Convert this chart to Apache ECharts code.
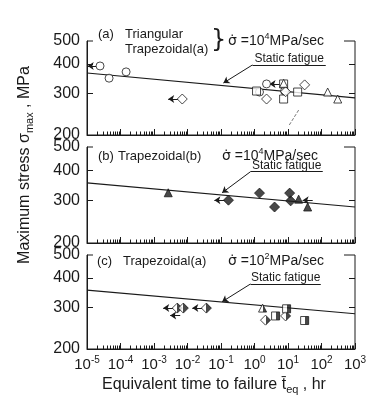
<!DOCTYPE HTML>
<html lang="en">

<head>
	<meta charset="utf-8">
	<title>Maximum stress vs equivalent time to failure</title>
	<style>
		html,
		body {
			margin: 0;
			padding: 0;
			background: #fff;
		}

		#chart {
			width: 371px;
			height: 411px;
		}
	</style>
</head>

<body>
	<div id="chart"></div>

	<script src="https://cdn.jsdelivr.net/npm/echarts@6.0.0/dist/echarts.min.js"></script>
	<script>
		// axis ticks
		var decadeTicks = [1e-5, 1e-4, 1e-3, 1e-2, 1e-1, 1, 10, 100, 1000];
		var stressTicks = [200, 300, 400, 500];
		var stressInnerTicks = [300, 400];

		// static fatigue line, [t, stress]
		var fatigueA = [[1e-5, 366], [1e3, 287]];
		var fatigueBC = [[1e-5, 355], [1e3, 282]];

		// (a) triangular / trapezoidal(a), 10^4 MPa/sec  (open marks)
		var aCircles = [[2.45e-5, 392], [4.56e-5, 348], [1.47e-4, 370], [2.29, 329], [1.41, 304], [7.9, 307]];
		var aSquares = [[1.15, 307], [7.4, 329], [7.4, 284], [19.4, 304]];
		var aDiamonds = [[6.98e-3, 284], [2.29, 284], [8.5, 305], [31.4, 326]];
		var aTriangles = [[7.4, 331], [153, 304], [305, 284]];
		var aRunouts = [[2.45e-5, 392], [6.98e-3, 284], [7.4, 329]];

		// (b) trapezoidal(b), 10^4 MPa/sec  (filled marks)
		var bDiamonds = [[0.167, 301], [1.41, 322], [3.97, 282], [11.2, 322], [12.0, 299]];
		var bTriangles = [[2.66e-3, 323], [20.8, 304], [38.6, 282]];
		var bRunouts = [[0.167, 301], [72, 301]];

		// (c) trapezoidal(a), 10^2 MPa/sec  (half filled marks)
		var cDiamonds = [[4.95e-3, 298], [7.5e-3, 298], [0.0366, 298], [2.13, 265], [8.47, 276]];
		var cSquares = [[9.08, 296], [4.26, 276], [31.4, 264]];
		var cTriangles = [[1.74, 298]];
		var cRunouts = [[4.95e-3, 298], [0.0366, 298], [8.0e-3, 277]];

		// "Static fatigue" leader: underline start, underline end, arrow tip
		var leaderA = [[0.87, 396], [134, 396], [0.118, 332]];
		var leaderB = [[0.76, 395], [109, 395], [0.108, 323]];
		var leaderC = [[0.76, 377], [95, 377], [0.108, 317]];
		var dashA = [[20.8, 255], [10.4, 218]];

		var FONT = 'Liberation Sans, Arial, Helvetica, sans-serif';
		var INK = '#1a1a1a';
		var lg = function (v) { return Math.log10(v); };

		var halfFill = {
			type: 'linear', x: 0, y: 0, x2: 1, y2: 0,
			colorStops: [
				{ offset: 0, color: '#fff' }, { offset: 0.5, color: '#fff' },
				{ offset: 0.5, color: INK }, { offset: 1, color: INK }
			]
		};
		var openStyle = { color: '#fff', borderColor: INK, borderWidth: 1 };
		var fillStyle = { color: INK, borderColor: INK, borderWidth: 1 };
		var halfStyle = { color: halfFill, borderColor: INK, borderWidth: 1 };

		var grids = [
			{ left: 87, right: 16, top: 41, height: 94 },
			{ left: 87, right: 16, top: 147, height: 96 },
			{ left: 87, right: 16, top: 255, height: 94 }
		];

		// stress tick marks sit on plain value axes in log10 units
		function stressTickAxis(i, pos) {
			return {
				type: 'value', gridIndex: i, min: lg(200), max: lg(500), position: pos, offset: 0,
				axisLine: { show: false, onZero: false },
				axisTick: { show: true, inside: true, length: 6, customValues: stressInnerTicks.map(lg), lineStyle: { color: INK } },
				axisLabel: { show: false },
				splitLine: { show: false }
			};
		}

		var xAxes = [], yAxes = [];
		grids.forEach(function (g, i) {
			g.show = true;
			g.borderColor = INK;
			g.borderWidth = 1;
			var last = i === grids.length - 1;
			xAxes.push({
				type: 'log', logBase: 10, gridIndex: i, min: decadeTicks[0], max: decadeTicks[decadeTicks.length - 1],
				splitNumber: decadeTicks.length - 1, position: 'bottom',
				axisLine: { show: true, onZero: false, lineStyle: { color: INK } },
				axisTick: { show: true, inside: true, length: 6, lineStyle: { color: INK } },
				minorTick: { show: true, splitNumber: 9, length: 3.5, lineStyle: { color: INK } },
				axisLabel: {
					show: last, margin: 6,
					formatter: function (v) {
						return '{b|10}{s|' + Math.round(Math.log10(v)) + '}';
					},
					rich: {
						b: { fontSize: 15, fontFamily: FONT, color: INK, lineHeight: 20 },
						s: { fontSize: 10, fontFamily: FONT, color: INK, lineHeight: 8, verticalAlign: 'top' }
					}
				},
				splitLine: { show: false }
			});

			yAxes.push({
				type: 'log', logBase: 10, gridIndex: i, min: 200, max: 500, position: 'left',
				axisLine: { show: true, onZero: false, lineStyle: { color: INK } },
				axisTick: { show: false },
				axisLabel: { customValues: stressTicks, fontSize: 16, fontFamily: FONT, color: INK, margin: 7 },
				splitLine: { show: false }
			});
			yAxes.push(stressTickAxis(i, 'left'));
			yAxes.push(stressTickAxis(i, 'right'));
		});

		function marks(i, data, symbol, size, style) {
			return {
				type: 'scatter', xAxisIndex: i, yAxisIndex: 3 * i, z: 5,
				data: data, symbol: symbol, symbolSize: size, itemStyle: style
			};
		}

		// runout arrows pointing to shorter time, kept inside the axis range
		function runoutLines(points) {
			return points.map(function (p) {
				return [
					{ coord: [p[0] * Math.pow(10, -0.12), p[1]] },
					{ coord: [Math.max(p[0] * Math.pow(10, -0.42), 1.05e-5), p[1]] }
				];
			});
		}

		function leaderLines(l) {
			return [
				[{
					coord: l[0], symbol: 'none',
					label: {
						show: true, position: 'insideMiddleTop', formatter: 'Static fatigue', distance: 0,
						fontSize: 12, fontFamily: FONT, color: INK
					}
				}, { coord: l[1], symbol: 'none' }],
				[{ coord: l[0], symbol: 'none' }, { coord: l[2], symbol: 'arrow', symbolSize: 6 }]
			];
		}

		function fatigue(i, line, leader, runouts, extra) {
			return {
				type: 'line', xAxisIndex: i, yAxisIndex: 3 * i, z: 3,
				data: line, showSymbol: false, silent: true,
				lineStyle: { color: INK, width: 1.2 },
				markLine: {
					silent: true, animation: false,
					symbol: ['none', 'arrow'], symbolSize: 6,
					label: { show: false },
					lineStyle: { color: INK, width: 1, type: 'solid' },
					data: leaderLines(leader).concat(runoutLines(runouts)).concat(extra || [])
				}
			};
		}

		var series = [
			fatigue(0, fatigueA, leaderA, aRunouts, [[
				{ coord: dashA[0], symbol: 'none', lineStyle: { type: 'dashed', color: '#555', width: 0.8 } },
				{ coord: dashA[1], symbol: 'none', lineStyle: { type: 'dashed', color: '#555', width: 0.8 } }
			]]),
			marks(0, aCircles, 'circle', 8, openStyle),
			marks(0, aSquares, 'rect', 8, openStyle),
			marks(0, aDiamonds, 'diamond', 10, openStyle),
			marks(0, aTriangles, 'triangle', 8, openStyle),

			fatigue(1, fatigueBC, leaderB, bRunouts),
			marks(1, bDiamonds, 'diamond', 10, fillStyle),
			marks(1, bTriangles, 'triangle', 8, fillStyle),

			fatigue(2, fatigueBC, leaderC, cRunouts),
			marks(2, cDiamonds, 'diamond', 10, halfStyle),
			marks(2, cSquares, 'rect', 8, halfStyle),
			marks(2, cTriangles, 'triangle', 8, halfStyle)
		];

		function txt(x, y, text, size, extra) {
			var o = {
				type: 'text', x: x, y: y, z: 100,
				style: { text: text, fontSize: size, fontFamily: FONT, fill: INK, textVerticalAlign: 'middle' }
			};
			if (extra) for (var key in extra) o.style[key] = extra[key];
			return o;
		}

		function rate(x, y, exp) {
			return txt(x, y, '{g|σ̇}{n| =10}{s|' + exp + '}{n|MPa/sec}', 14, {
				rich: {
					g: { fontSize: 14, fontFamily: 'DejaVu Sans', fill: INK, lineHeight: 18 },
					n: { fontSize: 14, fontFamily: FONT, fill: INK, lineHeight: 18 },
					s: { fontSize: 9, fontFamily: FONT, fill: INK, lineHeight: 8, verticalAlign: 'top' }
				}
			});
		}

		function gap(y) {
			return { type: 'rect', z: 90, shape: { x: 93, y: y - 5, width: 251, height: 10 }, style: { fill: '#fff' } };
		}

		var graphics = [
			gap(41), gap(147), gap(255),
			// (a)
			txt(98, 34, '(a)', 13), txt(125, 34, 'Triangular', 13), txt(125, 49, 'Trapezoidal(a)', 13),
			txt(211, 41, '}', 24, { fontFamily: 'DejaVu Sans' }),
			rate(228, 41, '4'),
			// (b)
			txt(98, 156, '(b)', 13), txt(118, 156, 'Trapezoidal(b)', 13), rate(222, 156, '4'),
			// (c)
			txt(97, 261, '(c)', 13), txt(123, 261, 'Trapezoidal(a)', 13), rate(228, 261, '2'),
			// axis titles
			txt(214, 385, '{n|Equivalent time to failure t̄}{b|eq}{n| , hr}', 16, {
				textAlign: 'center',
				rich: {
					n: { fontSize: 16, fontFamily: FONT, fill: INK, lineHeight: 20 },
					b: { fontSize: 11, fontFamily: FONT, fill: INK, lineHeight: 12, verticalAlign: 'bottom' }
				}
			}),
			{
				type: 'text', x: 25, y: 165, rotation: Math.PI / 2, z: 100,
				style: {
					text: '{n|Maximum stress σ}{b|max}{n| , MPa}', textAlign: 'center', textVerticalAlign: 'middle',
					rich: {
						n: { fontSize: 16, fontFamily: FONT, fill: INK, lineHeight: 20 },
						b: { fontSize: 11, fontFamily: FONT, fill: INK, lineHeight: 12, verticalAlign: 'bottom' }
					}
				}
			}
		];

		var chart = echarts.init(document.getElementById('chart'));
		chart.setOption({
			animation: false,
			backgroundColor: '#fff',
			grid: grids,
			xAxis: xAxes,
			yAxis: yAxes,
			series: series,
			graphic: graphics
		});
	</script>
</body>

</html>
